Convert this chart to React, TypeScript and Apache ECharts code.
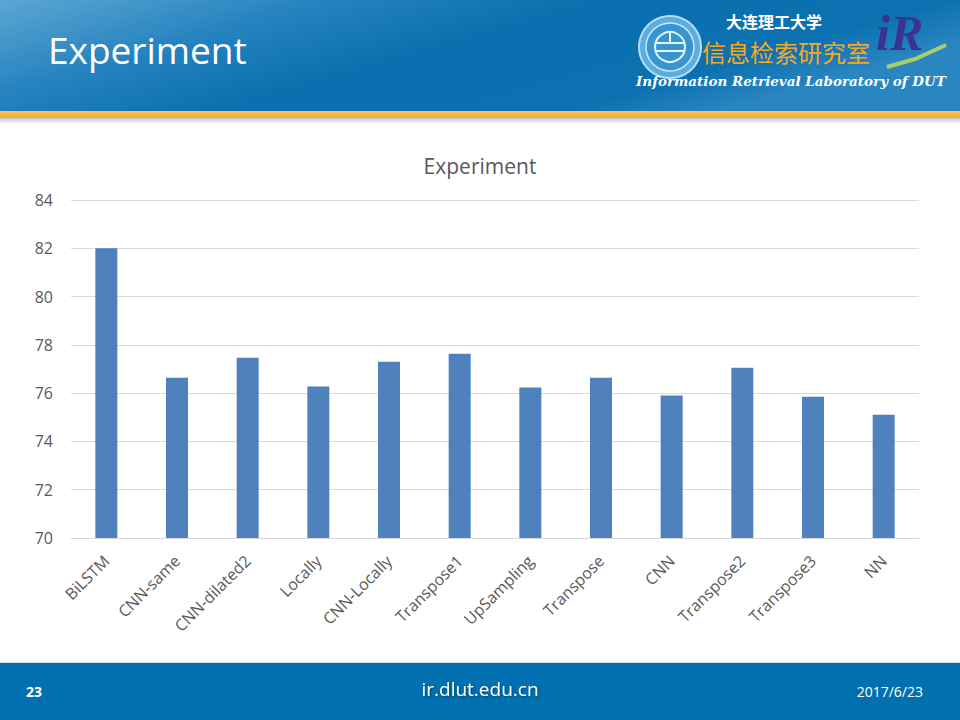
import { useRef, useEffect } from 'react';
import * as echarts from 'echarts';

const categories = [
    'BiLSTM', 'CNN-same', 'CNN-dilated2', 'Locally', 'CNN-Locally', 'Transpose1',
    'UpSampling', 'Transpose', 'CNN', 'Transpose2', 'Transpose3', 'NN',
];
const scores = [82.0, 76.64, 77.47, 76.27, 77.3, 77.63, 76.23, 76.64, 75.9, 77.05, 75.85, 75.11];
const yTicks = [70, 72, 74, 76, 78, 80, 82, 84];

const slideTitle = 'Experiment';
const chartTitle = 'Experiment';
const pageNumber = '23';
const siteUrl = 'ir.dlut.edu.cn';
const slideDate = '2017/6/23';

const FONT = '"Open Sans", "Noto Sans", sans-serif';
const GRAY = '#595959';

const App: React.FC = () => {
    const chartRef = useRef<HTMLDivElement>(null);

    useEffect(() => {
        if (!chartRef.current) return;
        const chart = echarts.init(chartRef.current, undefined, { renderer: 'svg' });

        const option: echarts.EChartsOption = {
            animation: false,
            backgroundColor: '#ffffff',
            title: {
                text: chartTitle,
                left: 'center',
                top: 150,
                textStyle: { color: GRAY, fontFamily: FONT, fontSize: 21, fontWeight: 'normal' },
            },
            grid: { left: 71, right: 41, top: 200, bottom: 182 },
            xAxis: {
                type: 'category',
                data: categories,
                axisTick: { show: false },
                axisLine: { lineStyle: { color: '#d9d9d9' } },
                axisLabel: {
                    rotate: 45,
                    margin: 20,
                    interval: 0,
                    color: GRAY,
                    fontFamily: FONT,
                    fontSize: 16,
                },
            },
            yAxis: {
                type: 'value',
                min: yTicks[0],
                max: yTicks[yTicks.length - 1],
                interval: 2,
                axisLine: { show: false },
                axisTick: { show: false },
                splitLine: { lineStyle: { color: '#d9d9d9' } },
                axisLabel: { color: GRAY, fontFamily: FONT, fontSize: 16, margin: 18 },
            },
            series: [
                {
                    type: 'bar',
                    data: scores,
                    barWidth: 22,
                    itemStyle: { color: '#4f81bd' },
                },
            ],
            graphic: [
                // header band
                {
                    type: 'rect',
                    shape: { x: 0, y: 0, width: 960, height: 111 },
                    style: {
                        fill: new echarts.graphic.LinearGradient(0, 0, 1, 0.4, [
                            { offset: 0, color: '#5ca6d3' },
                            { offset: 0.3, color: '#2482bf' },
                            { offset: 0.55, color: '#0a6fae' },
                            { offset: 0.85, color: '#0c71b0' },
                            { offset: 1, color: '#2a86c1' },
                        ]),
                    },
                    z: 0,
                },
                {
                    type: 'rect',
                    shape: { x: 0, y: 111, width: 960, height: 7 },
                    style: {
                        fill: new echarts.graphic.LinearGradient(0, 0, 0, 1, [
                            { offset: 0, color: '#fdc262' },
                            { offset: 1, color: '#f6aa2e' },
                        ]),
                    },
                },
                {
                    type: 'rect',
                    shape: { x: 0, y: 118, width: 960, height: 6 },
                    style: {
                        fill: new echarts.graphic.LinearGradient(0, 0, 0, 1, [
                            { offset: 0, color: '#c8c8c8' },
                            { offset: 1, color: '#ffffff' },
                        ]),
                    },
                },
                {
                    type: 'text',
                    left: 48,
                    top: 31,
                    style: { text: slideTitle, fill: '#ffffff', font: `37px ${FONT}` },
                },
                // university emblem
                {
                    type: 'group',
                    children: [
                        { type: 'circle', shape: { cx: 670, cy: 47, r: 31 }, style: { fill: '#5aaee0', stroke: '#b5def4', lineWidth: 2 } },
                        { type: 'circle', shape: { cx: 670, cy: 47, r: 24 }, style: { fill: '#3795d0', stroke: '#cfe9f8', lineWidth: 1.5 } },
                        { type: 'circle', shape: { cx: 670, cy: 47, r: 15 }, style: { fill: 'none', stroke: '#e6f4fc', lineWidth: 2 } },
                        { type: 'line', shape: { x1: 655, y1: 43, x2: 685, y2: 43 }, style: { stroke: '#e6f4fc', lineWidth: 2 } },
                        { type: 'line', shape: { x1: 655, y1: 51, x2: 685, y2: 51 }, style: { stroke: '#e6f4fc', lineWidth: 2 } },
                        { type: 'line', shape: { x1: 670, y1: 32, x2: 670, y2: 43 }, style: { stroke: '#e6f4fc', lineWidth: 2 } },
                    ],
                },
                {
                    type: 'text',
                    left: 726,
                    top: 13,
                    style: { text: '大连理工大学', fill: '#ffffff', font: 'bold 16px "Noto Sans CJK SC"' },
                },
                {
                    type: 'text',
                    left: 702,
                    top: 39,
                    style: { text: '信息检索研究室', fill: '#f6a723', font: '24px "Noto Sans CJK SC"' },
                },
                {
                    type: 'text',
                    left: 636,
                    top: 74,
                    style: {
                        text: 'Information Retrieval Laboratory of DUT',
                        fill: '#ffffff',
                        font: 'italic bold 13.5px "DejaVu Serif", serif',
                    },
                },
                // iR logo
                {
                    type: 'polyline',
                    shape: { points: [[887, 67], [915, 59], [946, 45]] },
                    style: { stroke: '#a6d065', lineWidth: 4, fill: 'none' },
                },
                {
                    type: 'text',
                    left: 876,
                    top: 8,
                    style: { text: 'iR', fill: '#3b3392', font: 'italic bold 50px "Liberation Serif", serif' },
                },
                // footer
                {
                    type: 'rect',
                    shape: { x: 0, y: 662, width: 960, height: 1 },
                    style: { fill: '#c9dbe8' },
                },
                {
                    type: 'rect',
                    shape: { x: 0, y: 663, width: 960, height: 57 },
                    style: { fill: '#0070b0' },
                },
                {
                    type: 'text',
                    left: 26,
                    top: 684,
                    style: { text: pageNumber, fill: '#ffffff', font: `bold 14px ${FONT}` },
                },
                {
                    type: 'text',
                    left: 'center',
                    top: 679,
                    style: {
                        text: siteUrl,
                        fill: '#ffffff',
                        font: `19px ${FONT}`,
                        textShadowColor: 'rgba(0,0,0,0.4)',
                        textShadowBlur: 2,
                        textShadowOffsetX: 1,
                        textShadowOffsetY: 1,
                    },
                },
                {
                    type: 'text',
                    right: 37,
                    top: 684,
                    style: { text: slideDate, fill: '#ffffff', font: `14px ${FONT}` },
                },
            ],
        };

        chart.setOption(option);

        return () => {
            chart.dispose();
        };
    }, []);

    return (
        <div
            ref={chartRef}
            style={{ position: 'fixed', left: 0, top: 0, width: '960px', height: '720px' }}
        />
    );
};

export default App;
